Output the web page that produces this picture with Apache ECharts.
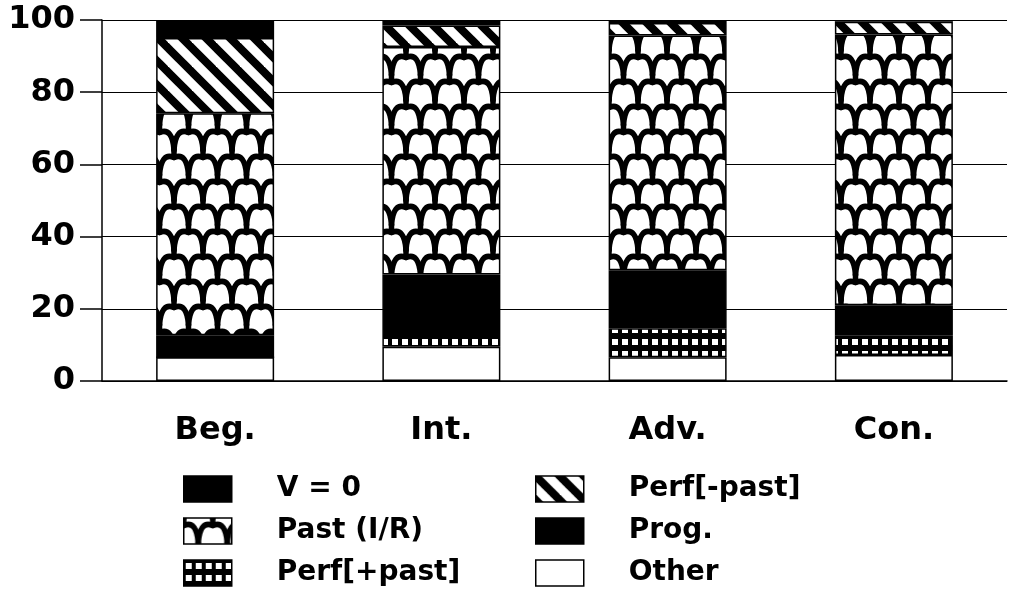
<!DOCTYPE html>
<html>
<head>
<meta charset="utf-8">
<script src="https://cdn.jsdelivr.net/npm/echarts@6/dist/echarts.min.js"></script>
<style>
html,body{margin:0;padding:0;background:#fff;}
#c{width:1011px;height:595px;}
</style>
</head>
<body>
<div id="c"></div>
<script>
const categories = ['Beg.', 'Int.', 'Adv.', 'Con.'];
const yTicks = [0, 20, 40, 60, 80, 100];
const other    = [6.6, 9.5, 6.6, 7.2];
const perfPlus = [0, 3, 8, 5.5];
const prog     = [6.1, 17, 16.1, 8.3];
const pastIR   = [61.5, 63, 65, 75];
const perfMinus= [20.8, 6, 3.5, 3.5];
const v0       = [5, 1.5, 0.8, 0.5];

function mk(w, h, draw) {
  const c = document.createElement('canvas');
  c.width = w; c.height = h;
  const g = c.getContext('2d');
  g.fillStyle = '#fff'; g.fillRect(0, 0, w, h);
  draw(g, w, h);
  return { image: c, repeat: 'repeat' };
}
const diagPat = mk(24, 24, (g, s) => {
  g.strokeStyle = '#000'; g.lineWidth = 8;
  for (let k = -1; k <= 1; k++) {
    g.beginPath(); g.moveTo(k * s - 4, -4); g.lineTo(k * s + s + 4, s + 4); g.stroke();
  }
});
const gridPat = mk(10, 12, (g, w, h) => {
  g.fillStyle = '#000'; g.fillRect(0, 0, w, h);
  g.fillStyle = '#fff'; g.fillRect(2, 3, 6, 6);
});
const pastPat = mk(29, 50, (g, w, h) => {
  const rh = h / 2;
  g.strokeStyle = '#000'; g.lineWidth = 5.5; g.lineCap = 'round'; g.lineJoin = 'round';
  function motif(cx, cy) {
    const topY = cy - 5;
    g.beginPath();
    g.moveTo(cx - w / 2, cy + rh / 2);
    g.bezierCurveTo(cx - w / 2 + 1, cy - 2, cx - 9, cy - 9, cx, topY);
    g.bezierCurveTo(cx + 9, cy - 9, cx + w / 2 - 1, cy - 2, cx + w / 2, cy + rh / 2);
    g.stroke();
    g.beginPath(); g.moveTo(cx, topY); g.lineTo(cx, cy - rh / 2); g.stroke();
  }
  for (let r = -1; r <= 2; r++) {
    const cy = rh / 2 + r * rh;
    const off = (((r % 2) + 2) % 2) ? w / 2 : 0;
    for (let k = -1; k <= 1; k++) motif(off + k * w, cy);
  }
});

const FONT = 'DejaVu Sans';
function bar(name, data, color) {
  return {
    name, type: 'bar', stack: 'a', data, barWidth: 118,
    itemStyle: { color, borderColor: '#000', borderWidth: 1.5 },
    emphasis: { disabled: true }
  };
}
const legendText = { fontFamily: FONT, fontWeight: 'bold', fontSize: 28, lineHeight: 26, color: '#000', padding: [0, 0, 0, 40] };
const legendBase = { orient: 'vertical', top: 475, height: 160, padding: 0, itemWidth: 48, itemHeight: 26, itemGap: 14, icon: 'rect',
  textStyle: legendText, selectedMode: false, itemStyle: { borderColor: '#000', borderWidth: 1.5 } };
const chart = echarts.init(document.getElementById('c'), null, { renderer: 'canvas' });
chart.setOption({
  animation: false,
  backgroundColor: '#fff',
  grid: { left: 102, right: 4, top: 20, bottom: 214, containLabel: false },
  legend: [
    Object.assign({ left: 183, data: ['V = 0', 'Past (I/R)', 'Perf[+past]'] }, legendBase),
    Object.assign({ left: 535, data: ['Perf[-past]', 'Prog.', 'Other'] }, legendBase)
  ],
  xAxis: {
    type: 'category', data: categories,
    axisLine: { lineStyle: { color: '#000', width: 1.5 } },
    axisTick: { alignWithLabel: true, length: 8, lineStyle: { color: '#000', width: 1.5 } },
    axisLabel: { margin: 34, fontFamily: FONT, fontWeight: 'bold', fontSize: 32, color: '#000' },
    splitLine: { show: false }
  },
  yAxis: {
    type: 'value', min: yTicks[0], max: yTicks[yTicks.length - 1], interval: 20,
    axisLine: { show: true, lineStyle: { color: '#000', width: 1.5 } },
    axisTick: { show: true, inside: false, length: 22, lineStyle: { color: '#000', width: 1.5 } },
    axisLabel: { margin: 27, fontFamily: FONT, fontWeight: 'bold', fontSize: 32, color: '#000',
      formatter: v => yTicks.includes(v) ? String(v) : '' },
    splitLine: { show: true, lineStyle: { color: '#000', width: 1.2 } }
  },
  series: [
    bar('Other', other, '#fff'),
    bar('Perf[+past]', perfPlus, gridPat),
    bar('Prog.', prog, '#000'),
    bar('Past (I/R)', pastIR, pastPat),
    bar('Perf[-past]', perfMinus, diagPat),
    bar('V = 0', v0, '#000')
  ]
});
</script>
</body>
</html>
